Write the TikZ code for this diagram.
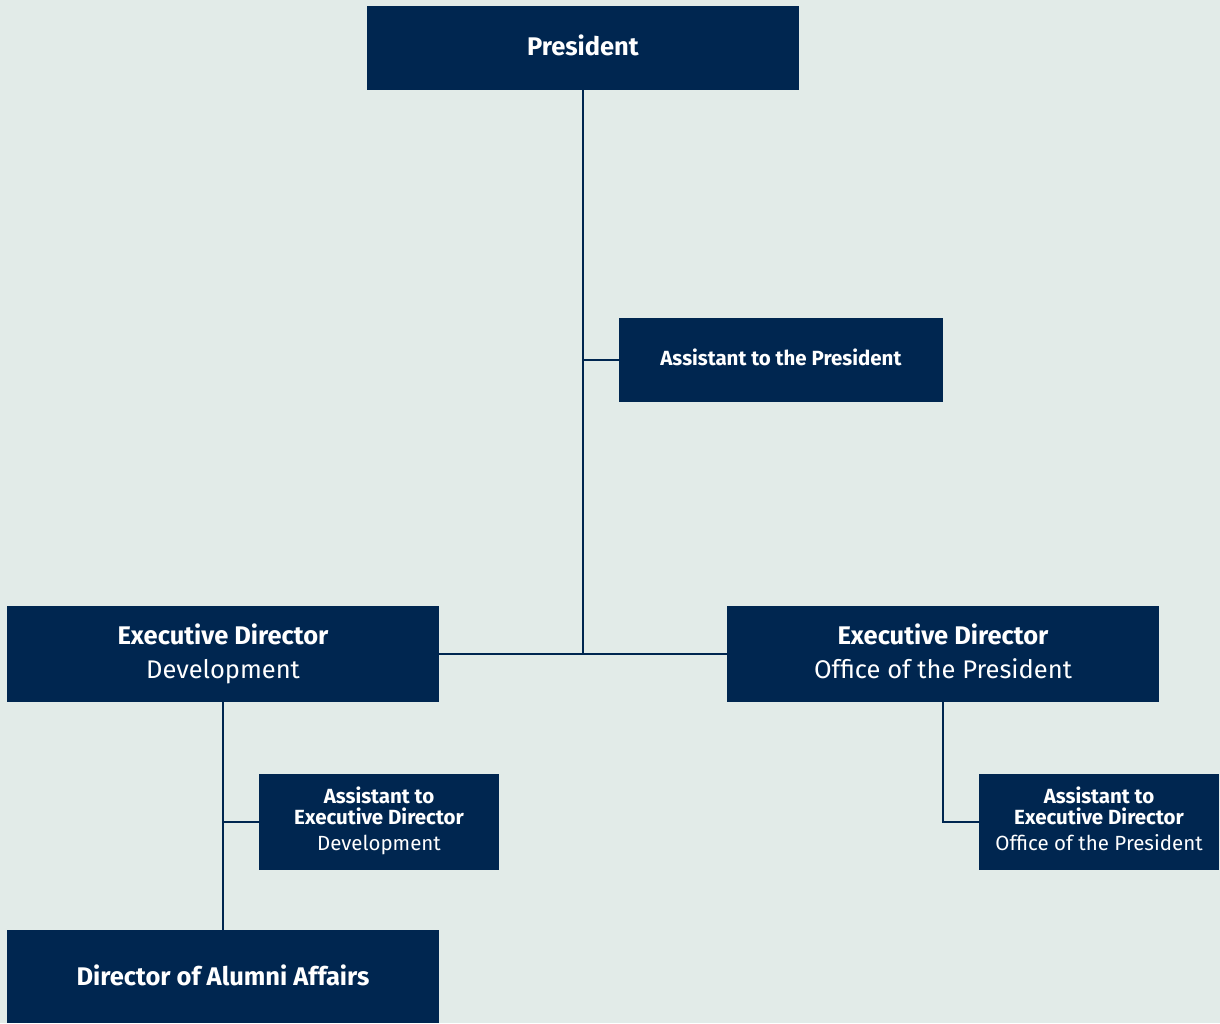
\documentclass[tikz,border=0pt]{standalone}
\usepackage{fontspec}
\setmainfont{Fira Sans}
\definecolor{bg}{HTML}{E2EBE8}
\definecolor{navy}{HTML}{002650}
\begin{document}
\begin{tikzpicture}[x=1pt,y=-1pt,
  box/.style={fill=navy,inner sep=0pt,anchor=center},
  txt/.style={text=white,inner sep=0pt,align=center,anchor=center},
  big/.style={font=\fontsize{25.5}{34}\selectfont},
  small/.style={font=\fontsize{20.5}{21}\selectfont},
  link/.style={draw=navy,line width=2pt}]
\fill[bg] (0,0) rectangle (1220,1023);
\useasboundingbox (0,0) rectangle (1220,1023);
\node[box,minimum width=432pt,minimum height=84pt] (pres) at (583,48) {};
\node[txt,big] (tpres) at ([yshift=3pt]pres.center) {\textbf{President}};
\node[box,minimum width=324pt,minimum height=84pt] (apres) at (781,360) {};
\node[txt,small] (tapres) at ([yshift=3pt]apres.center) {\textbf{Assistant to the President}};
\node[box,minimum width=432pt,minimum height=96pt] (edd) at (223,654) {};
\node[txt,big] (tedd) at (edd.center) {\textbf{Executive Director}\\Development};
\node[box,minimum width=432pt,minimum height=96pt] (edo) at (943,654) {};
\node[txt,big] (tedo) at ([yshift=3pt]edo.center) {\textbf{Executive Director}\\Office of the President};
\node[box,minimum width=240pt,minimum height=96pt] (aedd) at (379,822) {};
\node[txt,small] (taedd) at ([yshift=1pt]aedd.center) {\textbf{Assistant to}\\\textbf{Executive Director}\\[5pt]Development};
\node[box,minimum width=240pt,minimum height=96pt] (aedo) at (1099,822) {};
\node[txt,small] (taedo) at ([yshift=3pt]aedo.center) {\textbf{Assistant to}\\\textbf{Executive Director}\\[5pt]Office of the President};
\node[box,minimum width=432pt,minimum height=93pt] (alum) at (223,976.5) {};
\node[txt,big] (talum) at ([yshift=1pt]alum.center) {\textbf{Director of Alumni Affairs}};
\coordinate (j1) at (583,654);
\coordinate (j2) at (583,360);
\coordinate (j3) at (223,822);
\coordinate (j4) at (943,822);
\draw[link] (pres.south) -- (j1);
\draw[link] (edd.east) -- (edo.west);
\draw[link] (j2) -- (apres.west);
\draw[link] (edd.south) -- (alum.north);
\draw[link] (j3) -- (aedd.west);
\draw[link] (edo.south) -- (j4) -- (aedo.west);
\end{tikzpicture}
\end{document}
